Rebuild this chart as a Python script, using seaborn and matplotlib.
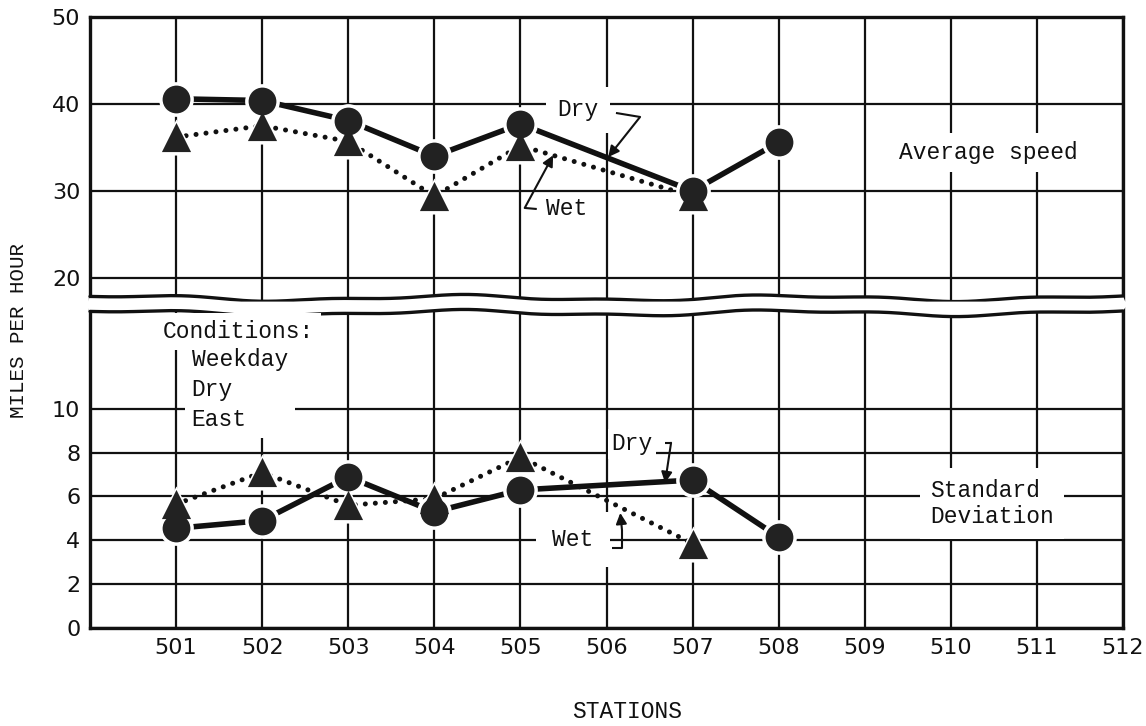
import numpy as np
import pandas as pd
import matplotlib
matplotlib.use("Agg")
import matplotlib.pyplot as plt
import seaborn as sns

# ---- data -------------------------------------------------------------
stations_dry = [501, 502, 503, 504, 505, 507, 508]
stations_wet = [501, 502, 503, 504, 505, 507]

avg_speed_dry = [40.6, 40.4, 38.1, 34.0, 37.7, 30.0, 35.6]
avg_speed_wet = [36.2, 37.5, 35.7, 29.4, 35.2, 29.4]

std_dev_dry = [4.55, 4.9, 6.9, 5.3, 6.3, 6.75, 4.15]
std_dev_wet = [5.65, 7.1, 5.6, 5.9, 7.8, 3.85]

station_ticks = list(range(501, 513))
speed_ticks = [20, 30, 40, 50]
sd_ticks = [0, 2, 4, 6, 8, 10]

# ---- style ------------------------------------------------------------
sns.set_theme(style="white")
plt.rcParams["font.family"] = ["DejaVu Sans"]
MONO = "Liberation Mono"
INK = "#111111"
MARK = "#222222"

fig = plt.figure(figsize=(11.46, 7.26), dpi=100)
fig.patch.set_facecolor("white")

W, H = 1146, 726
left, right = 90 / W, 1123 / W
ax_top = fig.add_axes([left, 1 - 306 / H, right - left, 289 / H])
ax_bot = fig.add_axes([left, 1 - 628 / H, right - left, 320 / H])

dry_top = pd.DataFrame({"station": stations_dry, "value": avg_speed_dry})
wet_top = pd.DataFrame({"station": stations_wet, "value": avg_speed_wet})
dry_bot = pd.DataFrame({"station": stations_dry, "value": std_dev_dry})
wet_bot = pd.DataFrame({"station": stations_wet, "value": std_dev_wet})


def draw_series(ax, dry, wet):
    sns.lineplot(data=dry, x="station", y="value", ax=ax, estimator=None,
                 color=INK, lw=4.0, solid_capstyle="butt", zorder=4)
    sns.lineplot(data=wet, x="station", y="value", ax=ax, estimator=None,
                 color=INK, lw=3.6, linestyle=(0, (0.01, 2.0)),
                 dash_capstyle="round", zorder=4)
    # white halos leave a small gap where the lines meet the markers
    sns.scatterplot(data=dry, x="station", y="value", ax=ax, marker="o",
                    s=25 ** 2, color="white", linewidth=0, zorder=5)
    sns.scatterplot(data=wet, x="station", y="value", ax=ax, marker="^",
                    s=26 ** 2, color="white", linewidth=0, zorder=5)
    sns.scatterplot(data=wet, x="station", y="value", ax=ax, marker="^",
                    s=21 ** 2, color=MARK, linewidth=0, zorder=6)
    sns.scatterplot(data=dry, x="station", y="value", ax=ax, marker="o",
                    s=20 ** 2, color=MARK, linewidth=0, zorder=6)


draw_series(ax_top, dry_top, wet_top)
draw_series(ax_bot, dry_bot, wet_bot)

for ax in (ax_top, ax_bot):
    ax.set_xlim(500, 512)
    ax.set_xticks(station_ticks)
    ax.set_axisbelow(True)
    ax.grid(True, color=INK, lw=1.6)
    ax.set_xlabel("")
    ax.set_ylabel("")
    ax.tick_params(length=0, labelsize=16, colors=INK, pad=7)
    for s in ax.spines.values():
        s.set_color(INK)
        s.set_linewidth(2.4)

ax_top.set_ylim(16.78, 50)
ax_top.set_yticks(speed_ticks)
ax_top.set_xticklabels([])
ax_top.spines["bottom"].set_visible(False)

ax_bot.set_ylim(0, 14.6)
ax_bot.set_yticks(sd_ticks)
ax_bot.set_xticklabels([str(s) for s in station_ticks])
ax_bot.spines["top"].set_visible(False)

# ---- wavy axis break ---------------------------------------------------
xs = np.linspace(0, 1, 500)
wave = (2.4 * np.sin(2 * np.pi * (3.1 * xs + 0.15))
        + 1.2 * np.sin(2 * np.pi * (7.4 * xs + 0.55)))

y_top = (306 - 298) / 289 + wave / 289
ax_top.fill(np.r_[xs, 1.006, -0.006], np.r_[y_top, -0.02, -0.02],
            transform=ax_top.transAxes, color="white", lw=0,
            zorder=3, clip_on=False)
ax_top.plot(xs, y_top, transform=ax_top.transAxes, color=INK, lw=2.4,
            zorder=3.1, clip_on=False)

y_bot = 1 - (313 - 308) / 320 + wave / 320
ax_bot.fill(np.r_[xs, 1.006, -0.006], np.r_[y_bot, 1.02, 1.02],
            transform=ax_bot.transAxes, color="white", lw=0,
            zorder=3, clip_on=False)
ax_bot.plot(xs, y_bot, transform=ax_bot.transAxes, color=INK, lw=2.4,
            zorder=3.1, clip_on=False)

# ---- annotations -------------------------------------------------------
TXT = dict(family=MONO, fontsize=16.5, color=INK, zorder=3.5)


def box(pad):
    return dict(boxstyle=f"square,pad={pad}", fc="white", ec="none")


def pointer(ax, path, tip):
    px, py = zip(*path)
    ax.plot(px, py, color=INK, lw=1.5, zorder=7, solid_capstyle="butt")
    ax.annotate("", xy=tip, xytext=path[-1],
                arrowprops=dict(arrowstyle="-|>", color=INK, lw=1.5,
                                mutation_scale=16, shrinkA=0, shrinkB=0),
                zorder=7)


ax_top.text(505.67, 39.31, "Dry", ha="center", va="center",
            bbox=box(0.5), **TXT)
pointer(ax_top, [(506.11, 38.97), (506.39, 38.51)], (506.02, 33.9))

ax_top.text(505.54, 27.93, "Wet", ha="center", va="center",
            bbox=box(0.2), **TXT)
pointer(ax_top, [(505.19, 27.93), (505.05, 28.05)], (505.38, 34.1))

ax_top.text(510.44, 34.37, "Average speed", ha="center", va="center",
            bbox=box(0.35), **TXT)

ax_bot.text(500.85, 13.52, "Conditions:", ha="left", va="center",
            bbox=box(0.3), **TXT)
ax_bot.text(501.18, 10.87, "Weekday\nDry\nEast", ha="left", va="center",
            linespacing=1.38, bbox=box(0.3), **TXT)

ax_bot.text(506.30, 8.40, "Dry", ha="center", va="center",
            bbox=box(0.15), **TXT)
pointer(ax_bot, [(506.68, 8.45), (506.75, 8.45)], (506.68, 6.62))

ax_bot.text(505.61, 4.02, "Wet", ha="center", va="center",
            bbox=box(0.7), **TXT)
pointer(ax_bot, [(506.06, 3.65), (506.18, 3.65), (506.18, 4.47)],
        (506.16, 5.25))

ax_bot.text(509.76, 5.68, "Standard\nDeviation", ha="left", va="center",
            linespacing=1.22, bbox=box(0.45), **TXT)

# ---- axis titles -------------------------------------------------------
fig.text(19 / W, 1 - 330 / H, "MILES PER HOUR", rotation=90,
         ha="center", va="center", family=MONO, fontsize=15, color=INK)
fig.text(627 / W, 1 - 711 / H, "STATIONS", ha="center", va="center",
         family=MONO, fontsize=16.5, color=INK)

fig.savefig("out.png", dpi=100, facecolor="white")
